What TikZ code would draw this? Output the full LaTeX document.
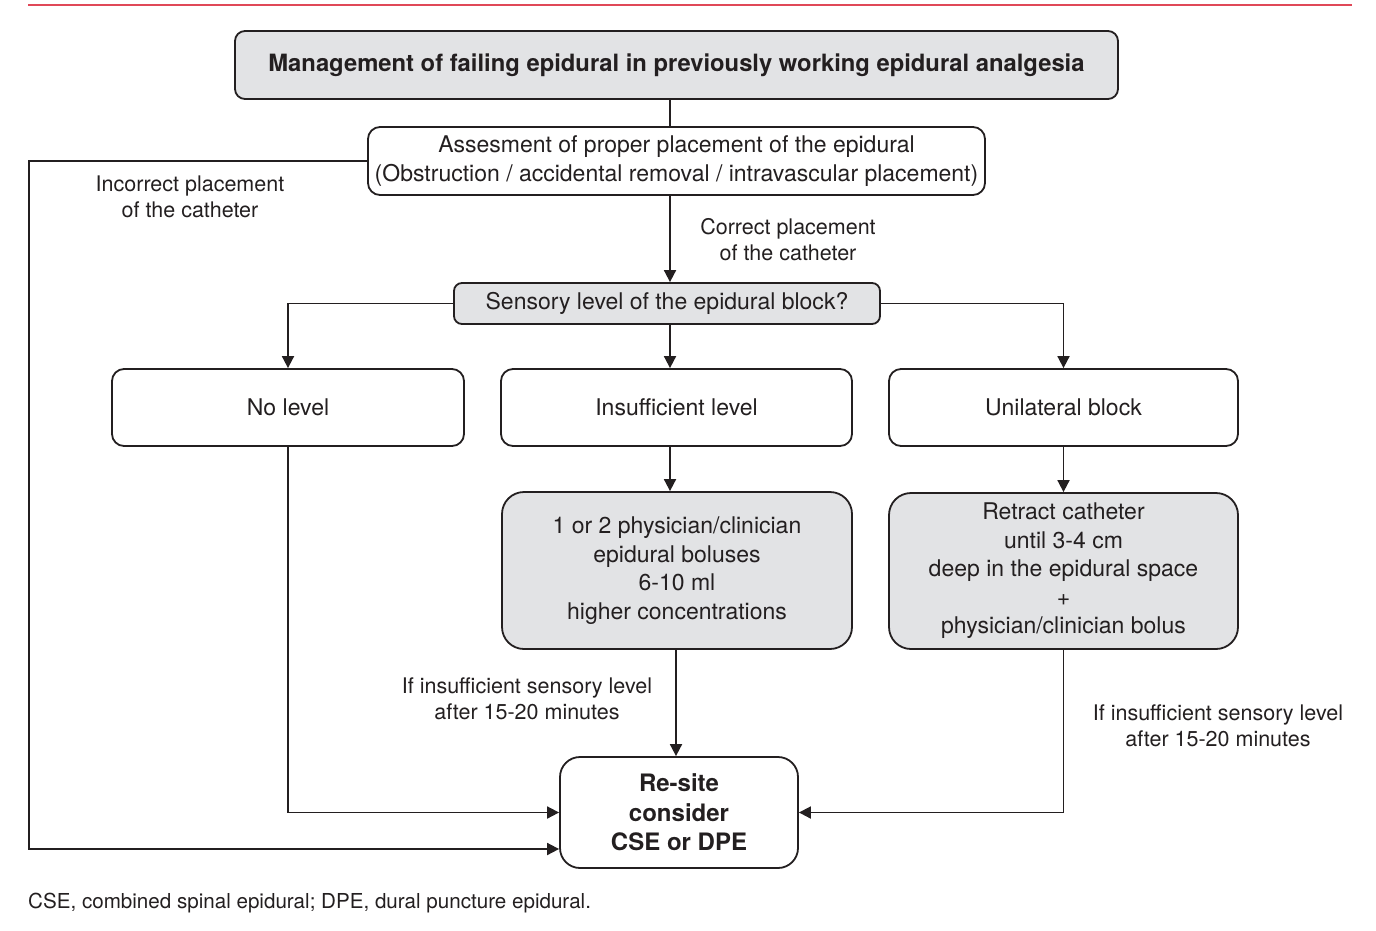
\documentclass[tikz,border=0pt]{standalone}
\usepackage{fontspec}
\setmainfont{TeX Gyre Heros}
\usetikzlibrary{arrows.meta}
\definecolor{boxgray}{RGB}{226,227,229}
\definecolor{ink}{RGB}{35,31,32}
\definecolor{rulered}{RGB}{224,72,88}
\newcommand{\boxfnt}{\fontsize{23}{28.5}\selectfont}
\newcommand{\lblfnt}{\fontsize{21.5}{26}\selectfont}
\begin{document}
\begin{tikzpicture}[x=1pt,y=-1pt,
  wbox/.style={draw=ink, line width=1.8pt, fill=white, rounded corners=12pt, inner sep=0pt, align=center, text=ink, font=\boxfnt},
  gbox/.style={wbox, fill=boxgray},
  conn/.style={draw=ink, line width=1.8pt},
  arr/.style={conn, -{Triangle[length=12pt,width=12pt]}},
  lbl/.style={align=center, text=ink, font=\lblfnt, inner sep=0pt}]
\useasboundingbox (0,0) rectangle (1376,930);
\draw[rulered, line width=2pt] (28,5) -- (1352,5);
% nodes
\node[gbox, rounded corners=10pt, minimum width=883pt, minimum height=68pt, font=\fontsize{23.8}{28}\selectfont\bfseries] (title) at (676.5,65) {Management of failing epidural in previously working epidural analgesia};
\node[wbox, minimum width=617pt, minimum height=68pt] (assess) at (676.5,161) {Assesment of proper placement of the epidural\\(Obstruction / accidental removal / intravascular placement)};
\node[gbox, rounded corners=8pt, minimum width=426pt, minimum height=41pt] (sens) at (667,303.5) {Sensory level of the epidural block?};
\node[wbox, minimum width=352pt, minimum height=77pt] (nolevel) at (288,407.5) {No level};
\node[wbox, minimum width=351pt, minimum height=77pt] (insuf) at (676.5,407.5) {Insufficient level};
\node[wbox, minimum width=349pt, minimum height=77pt] (unil) at (1063.5,407.5) {Unilateral block};
\node[gbox, rounded corners=22pt, minimum width=350pt, minimum height=157pt] (box1) at (677,570.5) {1 or 2 physician/clinician\\epidural boluses\\6-10 ml\\higher concentrations};
\node[gbox, rounded corners=22pt, minimum width=349pt, minimum height=156pt] (box2) at (1063.5,571) {Retract catheter\\until 3-4 cm\\deep in the epidural space\\+\\physician/clinician bolus};
\node[wbox, rounded corners=20pt, minimum width=238pt, minimum height=111pt, font=\fontsize{24}{29.5}\selectfont\bfseries] (resite) at (679,812.5) {Re-site\\consider\\CSE or DPE};
% labels
\node[lbl] (lincorrect) at (190,197) {Incorrect placement\\of the catheter};
\node[lbl] (lcorrect) at (788,240) {Correct placement\\of the catheter};
\node[lbl] (lif1) at (527,699) {If insufficient sensory level\\after 15-20 minutes};
\node[lbl] (lif2) at (1218,725.5) {If insufficient sensory level\\after 15-20 minutes};
\node[anchor=base west, inner sep=0pt, text=ink, font=\fontsize{20.6}{24}\selectfont] (foot) at (28,908) {CSE, combined spinal epidural; DPE, dural puncture epidural.};
% helper coordinates
\coordinate (cx) at (670,0);
\coordinate (dx) at (676,0);
\coordinate (lx) at (29,0);
% connectors
\draw[conn] (title.south -| cx) -- (assess.north -| cx);
\draw[arr] (assess.south -| cx) -- (sens.north -| cx);
\draw[arr] (assess.west) -- (assess.west -| lx) |- ([yshift=-36.5pt]resite.west);
\draw[arr] (sens.west) -| (nolevel.north);
\draw[arr] (sens.south -| cx) -- (insuf.north -| cx);
\draw[arr] (sens.east) -| (unil.north);
\draw[arr] (insuf.south -| cx) -- (box1.north -| cx);
\draw[arr] (unil.south) -- (box2.north);
\draw[arr] (nolevel.south) |- (resite.west);
\draw[arr] (box1.south -| dx) -- (resite.north -| dx);
\draw[arr] (box2.south) |- (resite.east);
\end{tikzpicture}
\end{document}
